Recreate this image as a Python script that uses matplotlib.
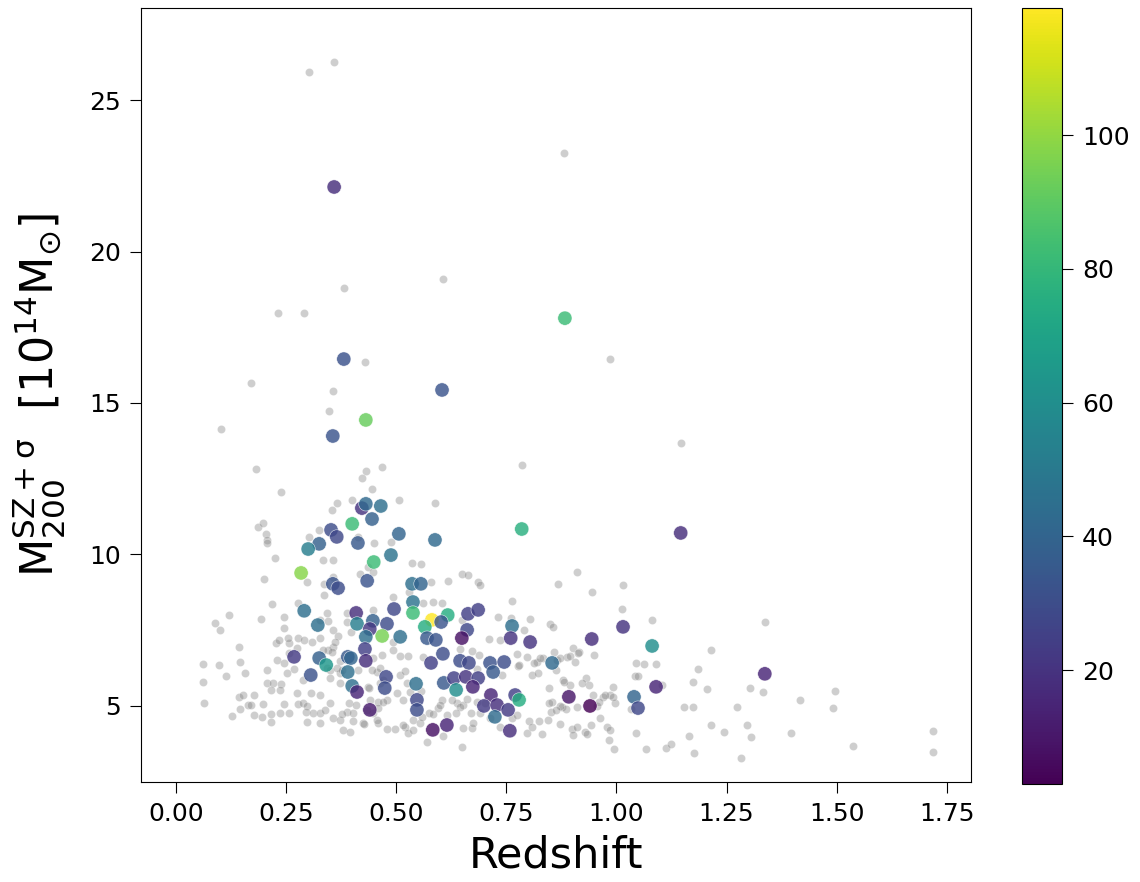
# redshift vs SZ mass, full sample in grey, matched clusters coloured by richness

import matplotlib as mpl
mpl.use('Agg')
import matplotlib.pyplot as plt
import numpy as np

# full cluster sample (grey background)
z_all = [0.359, 0.302, 0.881, 0.606, 0.381, 0.232, 0.291, 0.985, 0.429, 0.170,
         0.356, 1.146, 0.785, 0.347, 0.102, 0.182, 0.431, 0.422, 0.468, 0.238,
         0.445, 0.365, 0.400, 0.354, 0.506, 0.588, 0.186, 0.198, 0.204, 0.207,
         0.207, 0.325, 0.302, 0.413, 0.449, 0.488, 0.225, 0.334, 0.356, 0.200,
         0.297, 0.336, 0.356, 0.418, 0.436, 0.536, 0.556, 0.579, 0.617, 0.649,
         0.663, 0.686, 0.529, 0.218, 0.120, 0.089, 0.100, 0.193, 0.245, 0.277,
         0.245, 0.345, 0.356, 0.327, 0.368, 0.397, 0.447, 0.493, 0.583, 0.604,
         0.649, 0.143, 0.227, 0.234, 0.257, 0.277, 0.229, 0.207, 0.245, 0.145,
         0.157, 0.114, 0.098, 0.061, 0.061, 0.064, 0.127, 0.143, 0.152, 0.177,
         0.145, 0.163, 0.170, 0.177, 0.195, 0.198, 0.216, 0.207, 0.220, 0.238,
         0.236, 0.216, 0.245, 0.236, 0.257, 0.268, 0.277, 0.288, 0.297, 0.306,
         0.327, 0.295, 0.311, 0.327, 0.297, 0.327, 0.350, 0.356, 0.372, 0.379,
         0.395, 0.388, 0.402, 0.425, 0.447, 0.459, 0.479, 0.497, 0.520, 0.527,
         0.538, 0.554, 0.570, 0.606, 0.649, 0.652, 0.672, 0.670, 0.638, 0.652,
         0.604, 0.595, 0.574, 0.556, 0.524, 0.531, 0.502, 0.515, 0.479, 0.459,
         0.440, 0.509, 0.527, 0.509, 0.561, 0.520, 0.493, 0.463, 0.456, 0.447,
         0.413, 0.372, 0.350, 0.356, 0.345, 0.343, 0.350, 0.372, 0.343, 0.327,
         0.309, 0.291, 0.254, 0.252, 0.288, 0.275,
         0.275, 0.257, 0.216, 0.338, 0.377, 0.393, 0.409, 0.402, 0.427, 0.434,
         0.456, 0.459, 0.470, 0.436, 0.354, 0.361, 0.334, 0.388, 0.388, 0.336,
         0.447, 0.365, 0.377, 0.372, 0.445, 0.438, 0.468, 0.463, 0.470,
         0.867, 0.944, 0.910, 0.763, 0.804, 0.849, 0.856, 0.790, 0.711, 0.736,
         0.731, 0.690, 0.901, 0.888, 0.915, 0.865, 0.820, 0.833, 0.776, 0.808,
         0.879, 0.894, 0.847, 0.931, 0.938, 0.992, 0.985, 0.969, 0.956, 0.997,
         0.854, 0.876, 0.885, 0.910, 0.801, 0.824, 0.845, 0.872, 0.899, 0.910,
         0.928, 0.942, 0.978, 0.983, 0.797, 0.831, 0.808, 0.763, 0.736, 0.713,
         0.690, 0.674, 0.538, 0.515, 0.701, 0.683, 0.661, 0.645, 0.627, 0.636,
         0.615, 0.599, 0.583, 0.558, 0.672, 0.645, 0.683, 0.688, 0.797, 0.774,
         0.561, 0.493,
         1.015, 1.012, 1.081, 1.337, 0.761, 1.215, 1.185, 1.174, 1.205, 1.303,
         1.333, 1.417, 1.496, 1.491, 1.153, 1.174, 1.274, 1.215, 1.244, 1.296,
         1.305, 1.396, 1.537, 1.718, 1.718, 1.283, 1.176, 1.165, 1.112, 1.124,
         1.067, 1.044, 0.994, 0.985, 0.963, 0.933, 0.901, 0.774, 0.872, 0.847,
         0.851, 0.863, 0.947, 0.974, 0.960, 0.881, 0.922, 0.822, 0.813, 0.826,
         0.858, 0.872, 0.894, 0.913, 0.906, 0.949, 0.863, 0.779, 0.740, 1.044,
         1.062, 1.090, 1.042, 1.049, 1.103, 1.033, 0.992]
m_all = [26.25, 25.92, 23.25, 19.09, 18.80, 17.97, 17.97, 16.45, 16.35, 15.66,
         15.40, 13.68, 12.95, 14.74, 14.14, 12.82, 12.76, 12.52, 12.89, 12.06,
         12.16, 11.70, 11.80, 11.47, 11.80, 11.70, 10.91, 11.04, 10.68, 10.48,
         10.38, 10.81, 10.58, 10.58, 10.38, 10.41, 9.88, 9.82, 9.82, 9.19,
         9.09, 9.03, 9.26, 9.36, 9.59, 9.72, 9.69, 9.09, 9.13, 9.36,
         9.32, 9.09, 8.76, 8.37, 8.00, 7.74, 7.51, 7.87, 7.94, 8.40,
         7.57, 7.81, 7.51, 7.24, 7.31, 7.44, 8.17, 8.60, 8.43, 8.40,
         7.84, 6.95, 7.08, 7.18, 7.08, 7.24, 6.52, 6.19, 6.42, 6.45,
         6.09, 5.99, 6.35, 6.39, 5.79, 5.10, 4.67, 5.30, 5.36, 5.36,
         4.90, 5.03, 5.03, 4.70, 4.64, 5.07, 4.47, 5.76, 5.76, 5.73,
         5.53, 5.53, 5.07, 4.77, 4.77, 6.22, 5.07, 5.10, 5.00, 5.43,
         5.36, 4.80, 4.77, 4.77, 4.47, 4.44, 5.10, 4.60, 4.54, 4.21,
         4.14, 4.80, 4.77, 4.44, 4.77, 4.44, 4.24, 4.24, 4.31, 4.11,
         4.54, 4.44, 3.81, 4.01, 3.65, 4.27, 4.27, 4.77, 5.10, 5.03,
         5.20, 4.93, 4.77, 5.50, 5.76, 5.46, 5.43, 5.20, 5.20, 5.13,
         5.20, 6.65, 6.65, 6.02, 6.62, 6.16, 6.85, 5.76, 6.12, 6.58,
         6.19, 6.09, 5.92, 6.95, 6.85, 6.25, 6.19, 6.49, 8.07, 7.84,
         7.11, 7.18, 7.24, 6.09, 5.86, 5.43,
         6.91, 6.75, 4.74, 4.87, 4.74, 5.10, 5.03, 4.50, 4.41, 4.87,
         4.54, 4.93, 5.13, 5.63, 6.78, 7.11, 6.85, 7.77, 8.07, 8.66,
         9.42, 6.25, 6.19, 5.76, 6.19, 5.59, 6.68, 6.25, 5.86,
         9.03, 8.76, 9.42, 8.47, 7.87, 7.71, 7.61, 7.51, 7.21, 7.18,
         7.94, 8.99, 6.91, 6.62, 6.78, 6.52, 6.45, 6.58, 6.32, 6.02,
         5.86, 5.69, 5.59, 5.92, 5.69, 5.63, 5.36, 5.30, 5.00, 5.10,
         5.13, 4.97, 4.90, 4.97, 4.50, 4.50, 4.54, 4.41, 4.24, 4.31,
         4.14, 4.37, 4.31, 3.88, 4.11, 4.08, 4.31, 4.60, 4.31, 4.60,
         4.77, 4.44, 4.21, 4.37, 5.10, 5.13, 5.23, 4.97, 5.20, 4.77,
         4.70, 5.03, 4.74, 4.64, 6.82, 6.88, 6.22, 6.68, 6.62, 6.72,
         8.40, 7.11,
         8.99, 8.20, 7.84, 7.77, 7.90, 6.85, 6.22, 5.79, 5.56, 5.59,
         5.46, 5.20, 5.50, 4.93, 4.97, 4.97, 4.97, 4.37, 4.14, 4.37,
         3.98, 4.11, 3.68, 4.17, 3.48, 3.28, 3.45, 4.01, 3.61, 3.75,
         3.58, 4.11, 3.58, 4.21, 4.60, 4.08, 4.04, 4.70, 5.00, 5.10,
         4.80, 4.87, 5.36, 5.36, 5.13, 5.79, 5.76, 6.09, 6.42, 6.58,
         6.78, 6.58, 6.65, 6.75, 6.45, 6.68, 6.19, 6.35, 6.02, 6.42,
         6.39, 6.39, 5.99, 5.99, 5.69, 4.90, 5.30]

# matched clusters, coloured by richness
z_match = [0.359, 0.883, 0.381, 0.604, 0.431, 0.356, 1.146, 0.785, 1.337, 1.081,
           0.422, 0.431, 0.465, 0.445, 0.400, 0.506, 0.588, 0.352, 0.365, 0.325,
           0.300, 0.413, 0.488, 0.449, 0.284, 0.356, 0.368, 0.434, 0.536, 0.556,
           0.538, 0.495, 0.538, 0.581, 0.617, 0.565, 0.602, 0.663, 0.686, 0.661,
           0.649, 0.479, 0.468, 0.509, 0.570, 0.590, 0.763, 0.760, 0.804, 0.944,
           0.606, 0.579, 0.645, 0.665, 0.713, 0.745, 0.720, 0.854, 0.477, 0.474,
           0.545, 0.608, 0.631, 0.658, 0.686, 0.674, 0.636, 0.547, 0.547, 0.715,
           0.699, 0.729, 0.754, 0.724, 0.770, 0.779, 0.892, 0.940, 0.583, 0.615,
           0.758, 1.015, 1.090, 1.040, 1.049, 0.291, 0.322, 0.409, 0.411, 0.447,
           0.440, 0.431, 0.429, 0.431, 0.268, 0.325, 0.341, 0.306, 0.390, 0.397,
           0.390, 0.400, 0.411, 0.440]
m_match = [22.13, 17.80, 16.45, 15.43, 14.44, 13.91, 10.71, 10.84, 6.06, 6.98,
           11.53, 11.67, 11.60, 11.17, 11.01, 10.68, 10.48, 10.81, 10.58, 10.35,
           10.18, 10.38, 9.98, 9.75, 9.39, 9.03, 8.89, 9.13, 9.03, 9.03,
           8.43, 8.20, 8.07, 7.84, 8.00, 7.61, 7.77, 8.04, 8.17, 7.51,
           7.24, 7.71, 7.31, 7.28, 7.24, 7.18, 7.64, 7.24, 7.11, 7.21,
           6.72, 6.42, 6.49, 6.42, 6.42, 6.45, 6.12, 6.42, 5.96, 5.59,
           5.73, 5.76, 5.92, 5.96, 5.92, 5.63, 5.53, 5.20, 4.87, 5.36,
           5.00, 5.03, 4.87, 4.64, 5.36, 5.20, 5.30, 5.00, 4.21, 4.37,
           4.18, 7.61, 5.63, 5.30, 4.93, 8.14, 7.67, 8.07, 7.71, 7.81,
           7.54, 7.28, 6.88, 6.49, 6.62, 6.58, 6.35, 6.02, 6.62, 6.58,
           6.12, 5.66, 5.46, 4.87]
richness = [18, 82, 32, 33, 92, 33, 18, 76, 15, 60,
            20, 42, 45, 38, 82, 40, 42, 30, 28, 38,
            52, 35, 47, 82, 98, 33, 30, 33, 45, 40,
            47, 28, 82, 119, 75, 75, 33, 25, 25, 28,
            8, 30, 95, 45, 35, 33, 45, 20, 20, 18,
            30, 25, 30, 28, 32, 30, 35, 42, 28, 30,
            45, 35, 25, 20, 25, 15, 60, 28, 30, 15,
            23, 18, 23, 43, 25, 75, 10, 3, 8, 15,
            18, 20, 15, 40, 28, 45, 45, 18, 52, 38,
            22, 45, 25, 18, 23, 38, 65, 32, 35, 40,
            45, 45, 15, 12]

fig = plt.figure(figsize=(11.4, 8.82), dpi=100)
ax = fig.add_axes([0.1237, 0.1134, 0.728, 0.8776])
cax = fig.add_axes([0.8965, 0.1111, 0.0351, 0.8798])

ax.scatter(z_all, m_all, s=34, c='gray', alpha=0.38, edgecolors='white', linewidths=0.4)
sc = ax.scatter(z_match, m_match, s=105, c=richness, cmap='viridis', alpha=0.82,
                edgecolors='white', linewidths=0.4)

ax.set_xlim(-0.0795, 1.805)
ax.set_ylim(2.49, 28.04)
ax.set_xticks([0.0, 0.25, 0.5, 0.75, 1.0, 1.25, 1.5, 1.75])
ax.set_xticklabels(['0.00', '0.25', '0.50', '0.75', '1.00', '1.25', '1.50', '1.75'])
ax.set_yticks([5, 10, 15, 20, 25])
ax.tick_params(labelsize=18, length=8, pad=6.5)
ax.set_xlabel('Redshift', fontsize=31, labelpad=6)
ax.set_ylabel(r'$\mathregular{M_{200}^{SZ+\sigma}}$  [$\mathregular{10^{14}M_{\odot}}$]', fontsize=32)
ax.yaxis.set_label_coords(-0.088, 0.5)

cb = fig.colorbar(sc, cax=cax)
cb.set_ticks([20, 40, 60, 80, 100])
cb.ax.tick_params(labelsize=18, length=8, pad=6.5)
cb.solids.set_alpha(1)

fig.savefig('out.png', dpi=100)
